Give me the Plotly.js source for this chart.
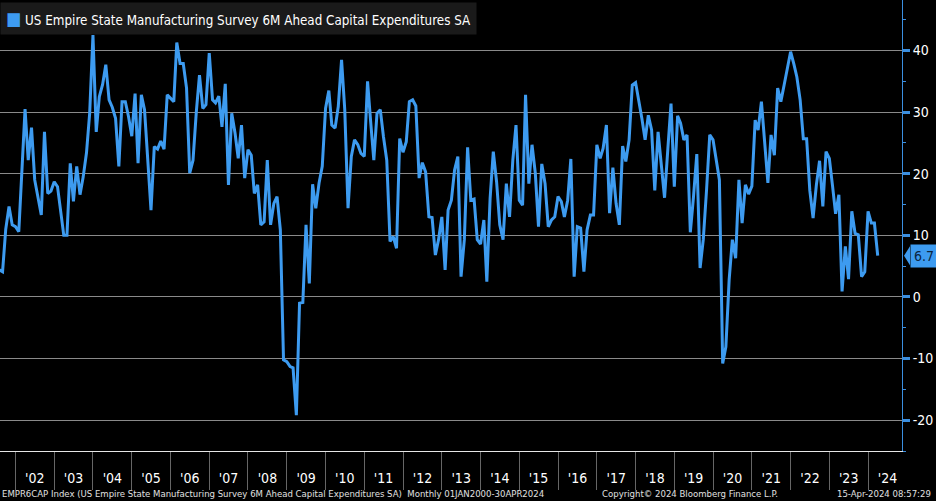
<!DOCTYPE html>
<html>
<head>
<meta charset="utf-8">
<script src="https://cdn.plot.ly/plotly-3.0.1.min.js"></script>
<style>html,body{margin:0;padding:0;background:#000;}#chart{width:936px;height:501px;}</style>
</head>
<body>
<div id="chart"></div>
<script>
// Monthly series, first value = Aug 2001, last value = Apr 2024
const startYear = 2001, startMonth = 8;
const capexValues = [
  4.4, 4.1, 11, 14.7, 11.7,
  11.4, 10.6, 20, 30.5, 22.2, 27.5, 19, 16, 13.3, 26.8, 16.8, 17.2,
  18.7, 17.9, 14, 10, 10, 21.7, 15.5, 21.2, 16.6, 19.5, 23.4, 29.8,
  42.5, 26.8, 32.5, 34.5, 37.7, 32, 30.8, 29, 21.2, 31.7, 31.7, 29.3,
  26.1, 33, 21.7, 32.8, 30.4, 22, 14.1, 24.4, 24, 25.3, 24, 32.8,
  32.2, 31.7, 41.3, 37.9, 37.9, 33.9, 20.1, 22.2, 30, 36, 30.6, 31.2,
  39.6, 32, 31.5, 32.6, 27.6, 34.6, 18.2, 29.8, 26.6, 22.5, 27.9, 19.3,
  23.9, 23, 16.8, 18.2, 11.7, 12.2, 22.2, 11.7, 15.2, 16.3, 10.9, -10.2,
  -10.5, -11.3, -11.5, -19.2, -1, -0.9, 11.7, 2.2, 18.3, 14.4, 18.5, 21.2,
  30.6, 33.5, 27.9, 27.4, 30.9, 38.5, 30.4, 14.4, 22.8, 25.5, 24.7, 23.3,
  22.8, 35, 28.7, 22.2, 29.8, 30.4, 26, 22.2, 9, 9.8, 7.9, 25.7,
  23.5, 25.2, 31.7, 32, 31, 19.3, 21.8, 20.3, 13, 12.9, 6.8, 9.3,
  13, 4.4, 14.1, 15.7, 20.6, 22.8, 3.3, 9.3, 24.3, 15.7, 15.9, 9.3,
  8.6, 12.5, 2.5, 16, 23.6, 18.7, 11.7, 9.3, 18.4, 13, 22.2, 27.9,
  15.7, 14.9, 32.8, 18.4, 24.7, 20.1, 11.4, 21.6, 18.4, 11.4, 12.5, 13,
  16.3, 15.5, 13, 15.7, 22.4, 3.3, 11.4, 11.2, 4.1, 10.9, 13.3, 13.3,
  24.7, 22.5, 24.1, 27.9, 13.6, 21, 15.2, 11.7, 24.5, 22, 25.5, 34.4,
  34.8, 32, 29, 25.5, 29.5, 27.1, 17.3, 26.8, 21.2, 16.1, 24, 31.4,
  17.9, 29.4, 28.2, 25.5, 26.3, 10.5, 16.3, 23.2, 4.7, 9.3, 17.4, 26.3,
  25.5, 22.2, 19, -10.8, -8.1, 2.8, 9.3, 6.3, 19, 12, 18.2, 16.7,
  18, 28.7, 27.1, 31.7, 25, 18.5, 26.3, 23, 33.9, 31.7, 34.4, 37,
  39.8, 37.8, 35.7, 32, 25.7, 25.7, 17.3, 12.8, 18.2, 22.1, 14.7, 23.6,
  22.5, 17.9, 13.5, 16.6, 0.9, 8.2, 2.9, 13.9, 10.3, 10.1, 3.3, 4.1,
  13.9, 12, 12, 6.7
];
const yearTickLabels = ["'02","'03","'04","'05","'06","'07","'08","'09","'10","'11","'12","'13","'14","'15","'16","'17","'18","'19","'20","'21","'22","'23","'24"];
const yearTickYears = [2002,2003,2004,2005,2006,2007,2008,2009,2010,2011,2012,2013,2014,2015,2016,2017,2018,2019,2020,2021,2022,2023,2024];
const yTickValues = [-20,-10,0,10,20,30,40];
const yTickLabels = ["-20","-10","0","10","20","30","40"];
const seriesName = "US Empire State Manufacturing Survey 6M Ahead Capital Expenditures SA";
const footerLeft = "EMPR6CAP Index (US Empire State Manufacturing Survey 6M Ahead Capital Expenditures SA)  Monthly 01JAN2000-30APR2024";
const footerMid = "Copyright\u00A9 2024 Bloomberg Finance L.P.";
const footerRight = "15-Apr-2024 08:57:29";

function pad(n){return (n<10?'0':'')+n;}
const dates = capexValues.map((v,i)=>{
  const t = (startMonth-1)+i;
  const y = startYear + Math.floor(t/12);
  const m = t%12 + 1;
  return y+'-'+pad(m)+'-01';
});
const midYear = yearTickYears.map(y=>y+'-07-02');
function fmt(ms){return new Date(ms).toISOString().replace('T',' ').replace('Z','');}
const monthMs = 365.2425/12*86400000;
const base = Date.UTC(2002,0,1);
const xRange = [fmt(base-4.8*monthMs), fmt(base+274.5*monthMs)];

const blue = '#3d9bf0';
const font = "'Liberation Sans Narrow','DejaVu Sans Condensed','Arial Narrow',sans-serif";
const lastVal = capexValues[capexValues.length-1];
const pxY = 451/73.2; // pixels per unit on the value axis
const pxX = 902;

const trace = {
  x: dates, y: capexValues, type:'scatter', mode:'lines',
  line:{color:blue, width:3}, name: seriesName, showlegend:false, hoverinfo:'skip'
};

const layout = {
  width:936, height:501,
  paper_bgcolor:'#000', plot_bgcolor:'#000',
  margin:{l:0, r:34, t:0, b:50},
  font:{family:font, color:'#fff', size:13},
  xaxis:{
    type:'date', range:xRange, showgrid:false, zeroline:false,
    showline:true, linecolor:'#e6e6e6', linewidth:1,
    tickmode:'array', tickvals:midYear, ticktext:yearTickLabels,
    ticks:'', ticklabelstandoff:14,
    tickfont:{family:font, size:14, color:'#fff'},
    minor:{tick0:'2002-01-01', dtick:'M12', ticks:'outside', ticklen:38, tickwidth:1, tickcolor:'#666', showgrid:false}
  },
  yaxis:{
    side:'right', range:[-25, 48.2], showgrid:true, gridcolor:'#8a8a8a', gridwidth:1,
    zeroline:false, showline:true, linecolor:'#3b8fe0', linewidth:1,
    tickmode:'array', tickvals:yTickValues, ticktext:yTickLabels,
    ticks:'outside', ticklen:7, tickwidth:3, tickcolor:'#3b8fe0',
    tickfont:{family:font, size:14, color:'#fff'},
    minor:{tick0:5, dtick:10, ticks:'outside', ticklen:3, tickwidth:1, tickcolor:'#3b8fe0', showgrid:false}
  },
  shapes:[
    {type:'path', xref:'paper', yref:'y', line:{width:0}, fillcolor:blue,
     path:'M '+(1+2/pxX)+' '+lastVal+' L '+(1+8/pxX)+' '+(lastVal+9.5/pxY)+' L '+(1+8/pxX)+' '+(lastVal-9.5/pxY)+' Z'}
  ],
  annotations:[
    {xref:'paper', yref:'paper', x:0, y:1, xanchor:'left', yanchor:'top', yshift:-2,
     text:'<span style="color:'+blue+';font-size:18px">\u25A0</span> '+seriesName, showarrow:false,
     bgcolor:'#1a1a1a', borderpad:5, font:{family:font, size:13.3, color:'#fff'}, align:'left'},
    {xref:'paper', yref:'y', x:1, y:lastVal, xanchor:'left', yanchor:'middle', xshift:8,
     text:String(lastVal), showarrow:false, bgcolor:blue, borderpad:3,
     font:{family:font, size:14, color:'#0b2540'}},
    {xref:'paper', yref:'paper', x:0, y:-43/451, xanchor:'left', yanchor:'middle',
     text:footerLeft, showarrow:false, font:{family:font, size:9.5, color:'#e0e0e0'}},
    {xref:'paper', yref:'paper', x:600/902, y:-43/451, xanchor:'left', yanchor:'middle',
     text:footerMid, showarrow:false, font:{family:font, size:9.5, color:'#e0e0e0'}},
    {xref:'paper', yref:'paper', x:933/902, y:-43/451, xanchor:'right', yanchor:'middle',
     text:footerRight, showarrow:false, font:{family:font, size:9.5, color:'#e0e0e0'}}
  ]
};

Plotly.newPlot('chart', [trace], layout, {displayModeBar:false, staticPlot:true});
</script>
</body>
</html>
